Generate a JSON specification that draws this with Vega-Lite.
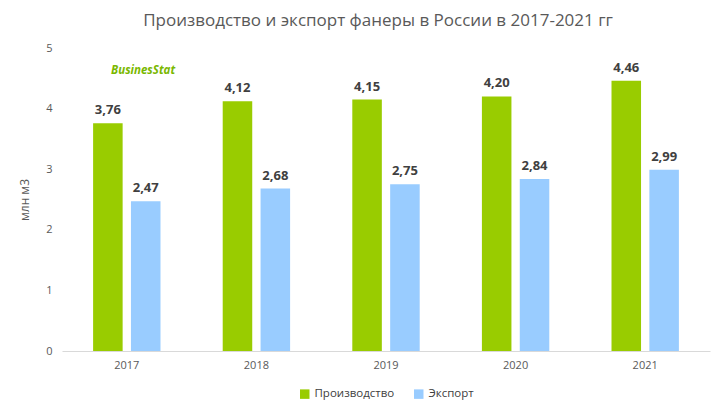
{
  "$schema": "https://vega.github.io/schema/vega-lite/v6.json",
  "width": 716,
  "height": 416,
  "autosize": {"type": "fit", "contains": "padding"},
  "padding": {"left": 18, "right": 6, "top": 12, "bottom": 16},
  "config": {
    "view": {"stroke": null},
    "font": "Open Sans",
    "legend": {"layout": {"bottom": {"anchor": "middle"}}},
    "locale": {"number": {"decimal": ",", "thousands": " ", "grouping": [3], "currency": ["", ""]}}
  },
  "title": {
    "text": "Производство и экспорт фанеры в России в 2017-2021 гг",
    "font": "Open Sans",
    "fontSize": 17,
    "fontWeight": "normal",
    "color": "#595959",
    "offset": 12,
    "dx": -8
  },
  "data": {
    "values": [
      {"year": "2017", "series": "Производство", "value": 3.76},
      {"year": "2017", "series": "Экспорт", "value": 2.47},
      {"year": "2018", "series": "Производство", "value": 4.12},
      {"year": "2018", "series": "Экспорт", "value": 2.68},
      {"year": "2019", "series": "Производство", "value": 4.15},
      {"year": "2019", "series": "Экспорт", "value": 2.75},
      {"year": "2020", "series": "Производство", "value": 4.20},
      {"year": "2020", "series": "Экспорт", "value": 2.84},
      {"year": "2021", "series": "Производство", "value": 4.46},
      {"year": "2021", "series": "Экспорт", "value": 2.99}
    ]
  },
  "encoding": {
    "x": {
      "field": "year", "type": "nominal",
      "scale": {"paddingInner": 0.48, "paddingOuter": 0.24},
      "axis": {"title": null, "labelAngle": 0, "ticks": false, "domainColor": "#d9d9d9", "labelColor": "#595959", "labelFontSize": 11, "labelPadding": 8}
    },
    "xOffset": {"field": "series", "type": "nominal", "scale": {"paddingInner": 0.22}},
    "y": {
      "field": "value", "type": "quantitative",
      "scale": {"domain": [0, 5]},
      "axis": {"title": "млн м3", "titleFontWeight": "normal", "titleColor": "#595959", "titleFontSize": 12, "titlePadding": 14, "tickCount": 5, "grid": false, "domain": false, "ticks": false, "labelColor": "#595959", "labelFontSize": 11, "labelPadding": 10}
    }
  },
  "layer": [
    {
      "mark": {"type": "bar"},
      "encoding": {
        "color": {
          "field": "series", "type": "nominal",
          "scale": {"domain": ["Производство", "Экспорт"], "range": ["#99cc00", "#99ccff"]},
          "legend": {"orient": "bottom", "direction": "horizontal", "title": null, "symbolType": "square", "symbolSize": 90, "labelFontSize": 11.5, "labelColor": "#404040", "columnPadding": 18, "offset": 18}
        }
      }
    },
    {
      "mark": {"type": "text", "dy": -13, "fontWeight": "bold", "fontSize": 13, "color": "#404040"},
      "encoding": {
        "text": {"field": "value", "type": "quantitative", "format": ".2f"}
      }
    },
    {
      "data": {"values": [{"year": "2017", "value": 4.62, "label": "BusinesStat"}]},
      "mark": {"type": "text", "dx": 50, "fontWeight": "bold", "fontStyle": "italic", "fontSize": 11.5, "color": "#7ab800", "font": "Open Sans"},
      "encoding": {
        "xOffset": {"value": 0},
        "text": {"field": "label"}
      }
    }
  ]
}
